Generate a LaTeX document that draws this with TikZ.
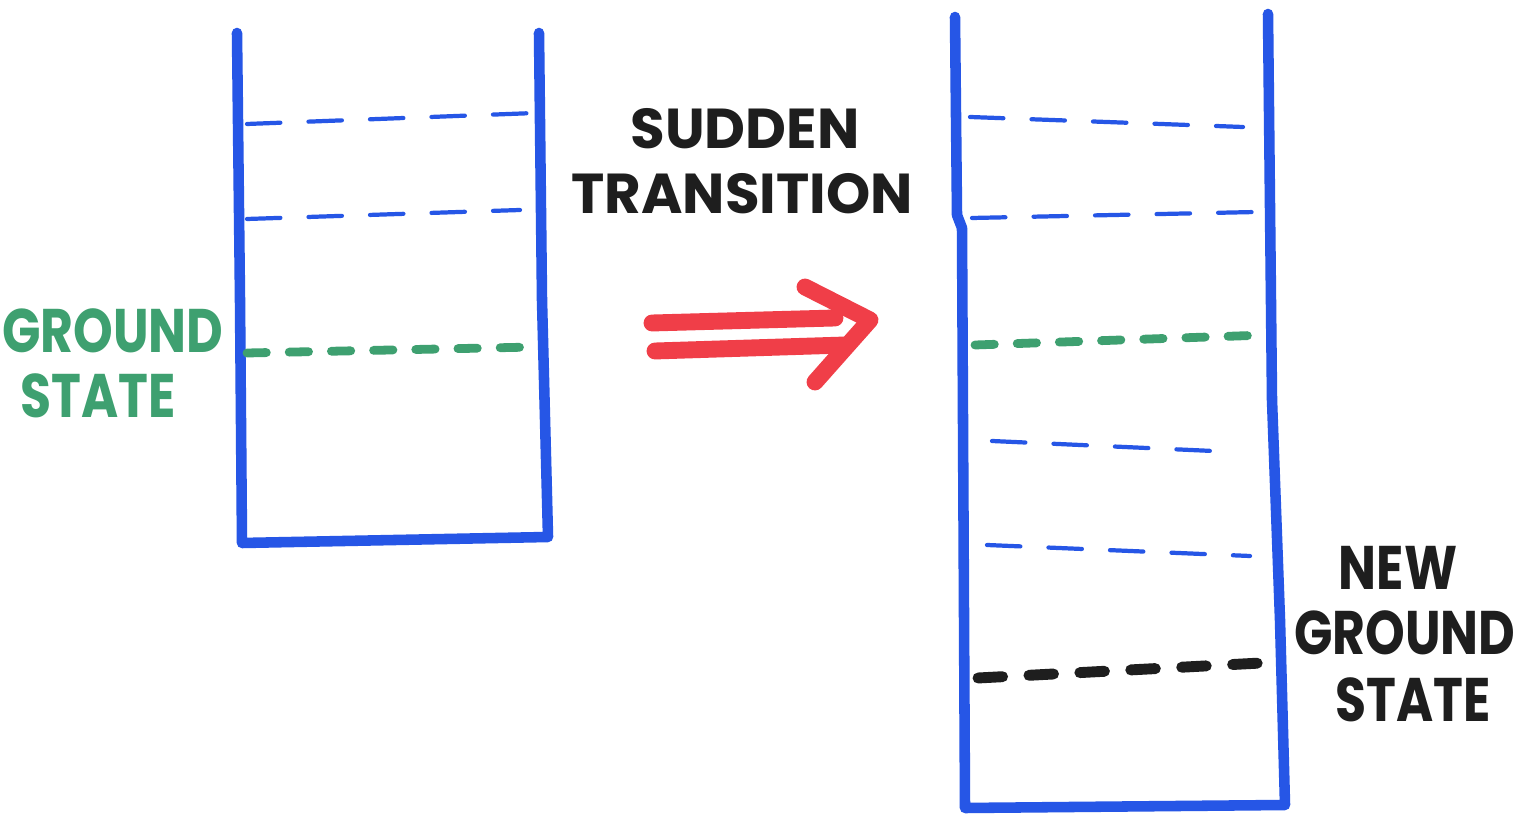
\documentclass[tikz,border=0pt]{standalone}
\usepackage{fontspec}
\newfontfamily\hand{Poppins}
\newfontfamily\handn[FakeStretch=0.82]{Poppins}
\definecolor{wallblue}{RGB}{38,86,230}
\definecolor{levgreen}{RGB}{62,160,112}
\definecolor{arrred}{RGB}{240,62,72}
\definecolor{inkblack}{RGB}{30,30,30}
\tikzset{
  wall/.style={draw=wallblue, line width=3pt, line cap=round, line join=round},
  level/.style={draw=wallblue, line width=1.2pt, line cap=round, dash pattern=on 9.5pt off 8pt},
  glevel/.style={draw=levgreen, line width=2.5pt, line cap=round, dash pattern=on 5.5pt off 6.5pt},
  blevel/.style={draw=inkblack, line width=3.1pt, line cap=round, dash pattern=on 7pt off 7.5pt},
  redline/.style={draw=arrred, line width=4.8pt, line cap=round, line join=round},
  lbl/.style={font=\hand\bfseries\fontsize{16}{16}\selectfont, inner sep=0pt},
  nlbl/.style={font=\handn\bfseries\fontsize{17.5}{17.5}\selectfont, inner sep=0pt},
}
\begin{document}
\begin{tikzpicture}[x=0.01cm,y=-0.01cm]
\useasboundingbox (0,0) rectangle (1530,819);
\fill[white] (0,0) rectangle (1530,819);
% left well
\draw[wall] (237,33) -- (240,300) -- (242,543) -- (548,537) -- (542,300) -- (539,33);
\draw[level] (247,124) -- (535,113);
\draw[level] (247,219) -- (520,210);
\draw[glevel] (247,353) -- (535,347);
% labels
\node[nlbl, text=levgreen] (g1) at (113,331) {GROUND};
\node[nlbl, text=levgreen] (g2) at (98,396) {STATE};
\node[lbl, text=inkblack] (s1) at (745,129) {SUDDEN};
\node[lbl, text=inkblack] (s2) at (742,194) {TRANSITION};
% arrow
\coordinate (a1) at (652,323);
\coordinate (a2) at (835,318);
\coordinate (b1) at (655,351);
\coordinate (b2) at (845,345);
\coordinate (h1) at (805,287);
\coordinate (h2) at (870,320);
\coordinate (h3) at (815,382);
\draw[redline] (a1) -- (a2);
\draw[redline] (b1) -- (b2);
\draw[redline] (h1) -- (h2) -- (h3);
% right well
\draw[wall] (955,17) -- (957,215) -- (962,228) -- (965,808) -- (1285,805) -- (1280,620) -- (1272,400) -- (1268,14);
\draw[level] (970,117) -- (1243,127);
\draw[level] (972,218) -- (1256,212);
\draw[glevel] (975,345) -- (1266,335);
\draw[level] (992,441) -- (1235,452);
\draw[level] (987,545) -- (1250,556);
\draw[blevel] (978,678) -- (1280,662);
\node[nlbl, text=inkblack] (n1) at (1398,568) {NEW};
\node[nlbl, text=inkblack] (n2) at (1405,633) {GROUND};
\node[nlbl, text=inkblack] (n3) at (1413,700) {STATE};
\end{tikzpicture}
\end{document}
